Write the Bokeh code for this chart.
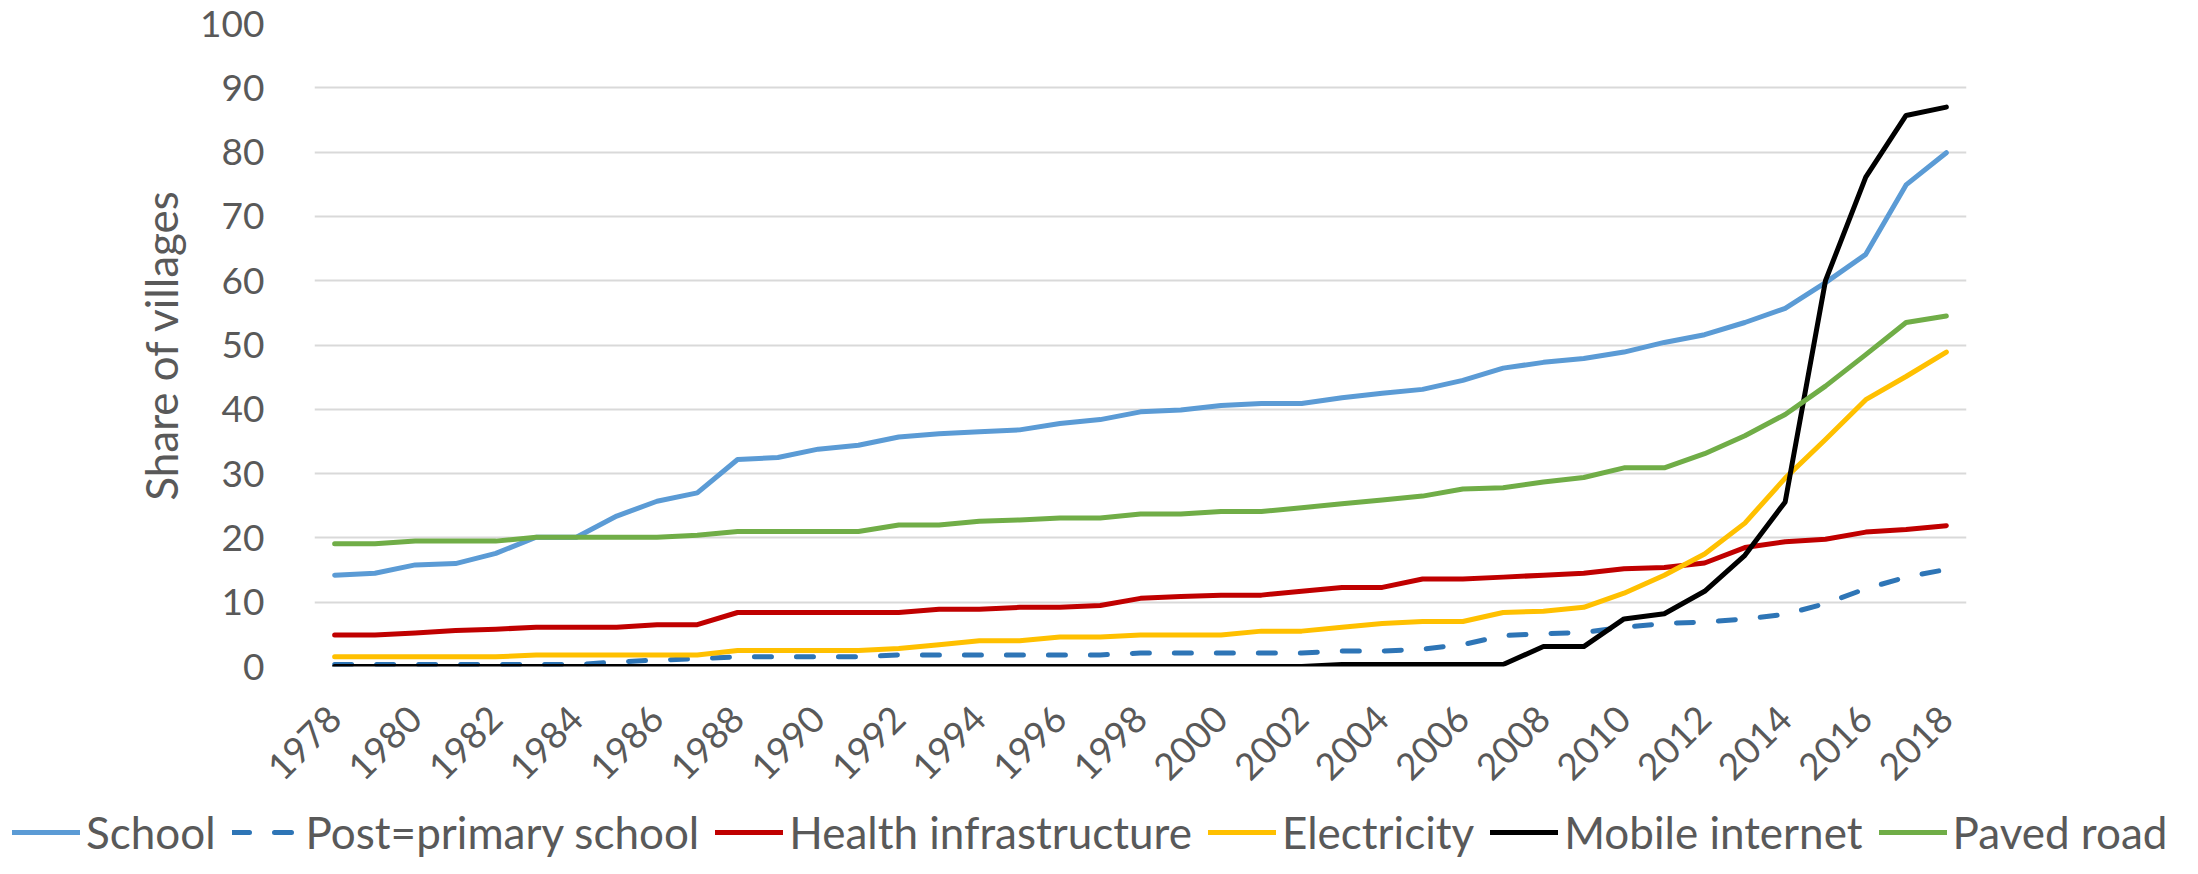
from bokeh.plotting import figure
from bokeh.models import Legend, LegendItem, FixedTicker, Range1d
from bokeh.layouts import column
from bokeh.embed import file_html
from bokeh.resources import INLINE

years = list(range(1978, 2019))
tick_years = list(range(1978, 2019, 2))

school = [14.2, 14.5, 15.8, 16.0, 17.6, 20.1, 20.1, 23.4, 25.7, 27.0, 32.2, 32.5, 33.8,
          34.4, 35.7, 36.2, 36.5, 36.8, 37.8, 38.4, 39.6, 39.9, 40.6, 40.9, 40.9, 41.8, 42.5, 43.1, 44.5,
          46.4, 47.3, 47.9, 48.9, 50.4, 51.6, 53.5, 55.7, 59.7, 64.1, 74.9, 79.9]
post_primary = [0.3, 0.3, 0.3, 0.3, 0.3, 0.3, 0.3, 0.7, 1.0, 1.2, 1.5, 1.5, 1.5,
                1.5, 1.8, 1.8, 1.8, 1.8, 1.8, 1.8, 2.1, 2.1, 2.1, 2.1, 2.1, 2.4, 2.4, 2.7, 3.4,
                4.8, 5.1, 5.3, 6.1, 6.7, 6.9, 7.4, 8.1, 9.8, 12.1, 13.9, 15.1]
health = [4.9, 4.9, 5.2, 5.6, 5.8, 6.1, 6.1, 6.1, 6.5, 6.5, 8.4, 8.4, 8.4,
          8.4, 8.4, 8.9, 8.9, 9.2, 9.2, 9.5, 10.6, 10.9, 11.1, 11.1, 11.7, 12.3, 12.3, 13.6, 13.6,
          13.9, 14.2, 14.5, 15.2, 15.4, 16.1, 18.5, 19.4, 19.8, 20.9, 21.3, 21.9]
electricity = [1.5, 1.5, 1.5, 1.5, 1.5, 1.8, 1.8, 1.8, 1.8, 1.8, 2.5, 2.5, 2.5,
               2.5, 2.8, 3.4, 4.0, 4.0, 4.6, 4.6, 4.9, 4.9, 4.9, 5.5, 5.5, 6.1, 6.7, 7.0, 7.0,
               8.4, 8.6, 9.2, 11.4, 14.2, 17.5, 22.3, 29.3, 35.3, 41.5, 45.1, 48.9]
mobile = [0.0] * 25 + [0.3, 0.3, 0.3, 0.3, 0.3,
                       3.1, 3.1, 7.4, 8.2, 11.7, 17.3, 25.6, 60.0, 76.1, 85.7, 87.0]
paved = [19.1, 19.1, 19.5, 19.5, 19.5, 20.1, 20.1, 20.1, 20.1, 20.4, 21.0, 21.0, 21.0,
         21.0, 22.0, 22.0, 22.6, 22.8, 23.1, 23.1, 23.7, 23.7, 24.1, 24.1, 24.7, 25.3, 25.9, 26.5, 27.6,
         27.8, 28.7, 29.4, 30.9, 30.9, 33.1, 35.9, 39.2, 43.6, 48.5, 53.5, 54.5]

series_names = ["School", "Post=primary school", "Health infrastructure",
                "Electricity", "Mobile internet", "Paved road"]
series_values = [school, post_primary, health, electricity, mobile, paved]
series_colors = ["#5B9BD5", "#2E75B6", "#C00000", "#FFC000", "#000000", "#70AD47"]
series_dash = ["solid", "17 25", "solid", "solid", "solid", "solid"]

FONT = "Lato"
TXT = "#595959"
LW = 5

p = figure(width=2182, height=805, output_backend="svg", toolbar_location=None,
           x_range=Range1d(1977.5, 2018.5), y_range=Range1d(0, 100),
           min_border_left=314, min_border_right=216, min_border_top=23, min_border_bottom=139)
p.frame_align = False
p.outline_line_color = None
p.xgrid.grid_line_color = None
p.ygrid.grid_line_color = "#D9D9D9"
p.ygrid.grid_line_width = 2

p.yaxis.ticker = FixedTicker(ticks=list(range(0, 101, 10)))
p.xaxis.ticker = FixedTicker(ticks=tick_years)

for ax in (p.xaxis[0], p.yaxis[0]):
    ax.axis_line_color = None
    ax.major_tick_line_color = None
    ax.minor_tick_line_color = None
    ax.major_tick_out = 0
    ax.major_tick_in = 0
    ax.minor_tick_out = 0
    ax.minor_tick_in = 0
    ax.major_label_text_font = FONT
    ax.major_label_text_font_size = "37px"
    ax.major_label_text_color = TXT

p.yaxis.major_label_standoff = 50
p.yaxis.axis_label = "Share of villages"
p.yaxis.axis_label_text_font = FONT
p.yaxis.axis_label_text_font_size = "44px"
p.yaxis.axis_label_text_font_style = "normal"
p.yaxis.axis_label_text_color = TXT
p.yaxis.axis_label_standoff = 10

p.xaxis.major_label_orientation = 0.785398
p.xaxis.major_label_standoff = 46

for vals, col, dash in zip(series_values, series_colors, series_dash):
    p.line(years, vals, line_color=col, line_width=LW, line_dash=dash,
           line_join="round", line_cap="round")

# legend strip below the chart (its series lie outside its own view, only the key is shown)
lg = figure(width=2182, height=53, output_backend="svg", toolbar_location=None,
            x_range=Range1d(0, 1), y_range=Range1d(0, 1),
            x_axis_location=None, y_axis_location=None,
            min_border_left=0, min_border_right=0, min_border_top=0, min_border_bottom=0)
lg.frame_align = False
lg.outline_line_color = None
lg.xgrid.visible = False
lg.ygrid.visible = False

items = []
for name, vals, col, dash in zip(series_names, series_values, series_colors, series_dash):
    r = lg.line(years, vals, line_color=col, line_width=LW, line_dash=dash,
                line_join="round", line_cap="round")
    items.append(LegendItem(label=name, renderers=[r]))

legend = Legend(items=items, orientation="horizontal", location=(12, 0))
legend.label_text_font = FONT
legend.label_text_font_size = "44px"
legend.label_text_color = TXT
legend.glyph_width = 68
legend.glyph_height = 40
legend.label_standoff = 6
legend.spacing = 16
legend.padding = 0
legend.margin = 0
legend.border_line_color = None
legend.background_fill_alpha = 0
legend.label_height = 40
lg.add_layout(legend)

layout = column(p, lg, spacing=0)
open("out.html", "w").write(file_html(layout, INLINE))
